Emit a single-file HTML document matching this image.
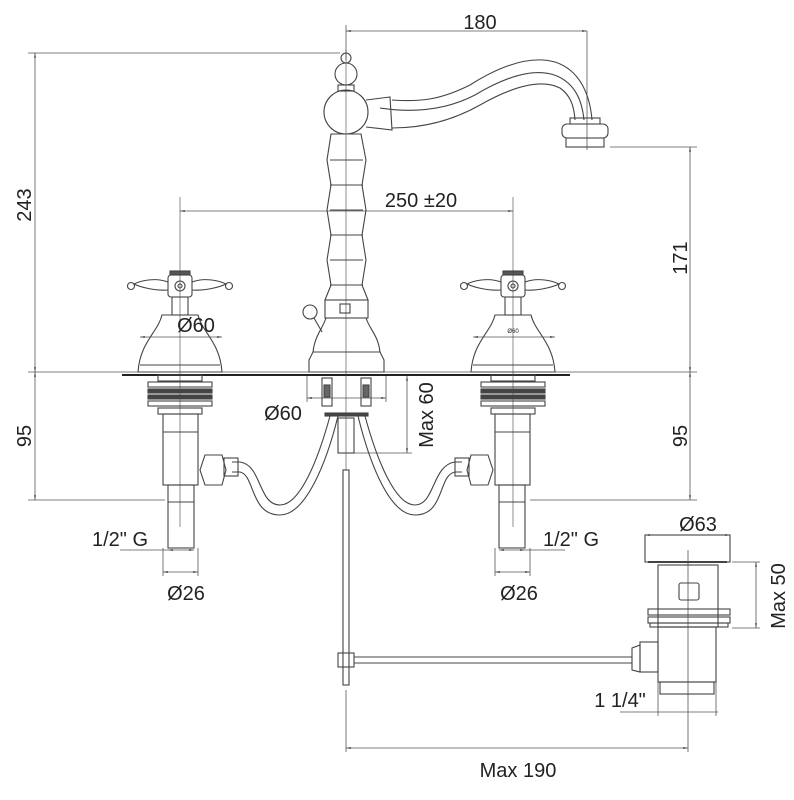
<!DOCTYPE html>
<html><head><meta charset="utf-8"><style>
html,body{margin:0;padding:0;background:#fff;}
svg{display:block;}
text{font-family:"Liberation Sans",sans-serif;fill:#222;}
</style></head><body>
<svg width="794" height="800" viewBox="0 0 794 800" xmlns="http://www.w3.org/2000/svg">
<defs>
<marker id="a" viewBox="0 0 10 10" refX="10" refY="5" markerWidth="6" markerHeight="6" orient="auto-start-reverse"><path d="M0,3 L10,5 L0,7z" fill="#444"/></marker>
<g id="valve" fill="none" stroke="#444" stroke-width="1.1">
  <rect x="-10" y="-16" width="20" height="4" fill="#555"/>
  <rect x="-12" y="-12" width="24" height="22" rx="3"/>
  <circle cx="0" cy="-1" r="5"/><circle cx="0" cy="-1" r="2"/>
  <path d="M-12,-5 C-25,-10 -40,-6 -46,-3 C-40,0 -25,4 -12,3"/>
  <path d="M12,-5 C25,-10 40,-6 46,-3 C40,0 25,4 12,3"/>
  <circle cx="-49" cy="-1" r="3.5"/><circle cx="49" cy="-1" r="3.5"/>
  <rect x="-8" y="10" width="16" height="18"/>
  <path d="M-18,28 L18,28 C22,45 40,55 42,85 L-42,85 C-40,55 -22,45 -18,28z"/>
  <line x1="-40" y1="78" x2="40" y2="78"/>
  <rect x="-22" y="88" width="44" height="6"/>
  <rect x="-32" y="95" width="64" height="5"/>
  <rect x="-32" y="102" width="64" height="4" fill="#444"/>
  <rect x="-32" y="108" width="64" height="4" fill="#444"/>
  <rect x="-32" y="114" width="64" height="5"/>
  <rect x="-22" y="121" width="44" height="6"/>
  <rect x="-17" y="127" width="35" height="71"/>
  <line x1="-17" y1="145" x2="18" y2="145"/>
  <rect x="-12" y="198" width="26" height="63"/>
  <line x1="-12" y1="215" x2="14" y2="215"/>
  <line x1="0" y1="-90" x2="0" y2="240" stroke-width="0.6"/>
</g>
</defs>

<g stroke="#555" stroke-width="0.8" fill="none">
  <line x1="346" y1="25" x2="346" y2="60"/>
  <line x1="346" y1="31" x2="587" y2="31" marker-start="url(#a)" marker-end="url(#a)"/>
  <line x1="587" y1="31" x2="587" y2="150"/>
  <line x1="28" y1="53" x2="340" y2="53"/>
  <line x1="35" y1="53" x2="35" y2="372" marker-start="url(#a)" marker-end="url(#a)"/>
  <line x1="28" y1="372" x2="697" y2="372"/>
  <line x1="35" y1="372" x2="35" y2="500" marker-start="url(#a)" marker-end="url(#a)"/>
  <line x1="28" y1="500" x2="165" y2="500"/>
  <line x1="610" y1="147" x2="697" y2="147"/>
  <line x1="690" y1="147" x2="690" y2="372" marker-start="url(#a)" marker-end="url(#a)"/>
  <line x1="690" y1="372" x2="690" y2="500" marker-start="url(#a)" marker-end="url(#a)"/>
  <line x1="530" y1="500" x2="697" y2="500"/>
  <line x1="180" y1="211" x2="513" y2="211" marker-start="url(#a)" marker-end="url(#a)"/>
  <line x1="140" y1="337" x2="222" y2="337" marker-start="url(#a)" marker-end="url(#a)"/>
  <line x1="473" y1="337" x2="555" y2="337" marker-start="url(#a)" marker-end="url(#a)"/>
  <line x1="307" y1="375" x2="307" y2="402"/><line x1="386" y1="375" x2="386" y2="402"/>
  <line x1="307" y1="398" x2="386" y2="398" marker-start="url(#a)" marker-end="url(#a)"/>
  <line x1="407" y1="376" x2="407" y2="453" marker-start="url(#a)" marker-end="url(#a)"/>
  <line x1="350" y1="453" x2="412" y2="453"/>
  <line x1="120" y1="550" x2="168" y2="550"/><line x1="168" y1="550" x2="194" y2="550" marker-start="url(#a)" marker-end="url(#a)"/>
  <line x1="499" y1="550" x2="525" y2="550" marker-start="url(#a)" marker-end="url(#a)"/><line x1="525" y1="550" x2="565" y2="550"/>
  <line x1="163" y1="548" x2="163" y2="576"/><line x1="198" y1="548" x2="198" y2="576"/>
  <line x1="163" y1="572" x2="198" y2="572" marker-start="url(#a)" marker-end="url(#a)"/>
  <line x1="495" y1="548" x2="495" y2="576"/><line x1="530" y1="548" x2="530" y2="576"/>
  <line x1="495" y1="572" x2="530" y2="572" marker-start="url(#a)" marker-end="url(#a)"/>
  <line x1="645" y1="535" x2="730" y2="535" marker-start="url(#a)" marker-end="url(#a)"/>
  <line x1="732" y1="562" x2="760" y2="562"/><line x1="732" y1="628" x2="760" y2="628"/>
  <line x1="756" y1="562" x2="756" y2="628" marker-start="url(#a)" marker-end="url(#a)"/>
  <line x1="620" y1="712" x2="718" y2="712"/><line x1="658" y1="680" x2="658" y2="716"/><line x1="716" y1="680" x2="716" y2="716"/>
  <line x1="346" y1="690" x2="346" y2="752"/><line x1="688" y1="550" x2="688" y2="752"/>
  <line x1="346" y1="748" x2="688" y2="748" marker-start="url(#a)" marker-end="url(#a)"/>
</g>

<line x1="122" y1="375" x2="570" y2="375" stroke="#222" stroke-width="2"/>

<use href="#valve" x="180" y="287"/>
<use href="#valve" transform="translate(513,287) scale(-1,1)"/>

<g fill="none" stroke="#444" stroke-width="1.1">
  <line x1="346" y1="50" x2="346" y2="470" stroke-width="0.6"/>
  <circle cx="346" cy="58" r="5"/>
  <circle cx="346" cy="74" r="11"/>
  <rect x="338" y="85" width="16" height="6"/>
  <circle cx="346" cy="112" r="22"/>
  <path d="M366,100 L390,97 L392,130 L366,127"/>
  <path d="M392,100 C420,102 440,100 470,85 C500,66 530,55 555,62 C580,70 590,95 592,120"/>
  <path d="M392,128 C420,128 450,122 480,105 C510,88 540,78 560,88 C570,95 574,105 575,120"/>
  <path d="M380,108 C420,114 450,108 475,95 C505,77 535,67 557,76 C575,84 582,100 584,120"/>
  <rect x="570" y="118" width="30" height="6"/>
  <rect x="562" y="124" width="46" height="14" rx="5"/>
  <rect x="566" y="138" width="38" height="9"/>
  <path d="M331,134 L361,134 L366,160 L362,185 L366,210 L362,235 L366,260 L362,285 L368,300 L325,300 L331,285 L327,260 L331,235 L327,210 L331,185 L327,160z"/>
  <line x1="330" y1="160" x2="363" y2="160"/><line x1="330" y1="185" x2="363" y2="185"/>
  <line x1="330" y1="210" x2="363" y2="210"/><line x1="330" y1="235" x2="363" y2="235"/>
  <line x1="330" y1="260" x2="363" y2="260"/><line x1="330" y1="285" x2="363" y2="285"/>
  <rect x="325" y="300" width="43" height="18"/>
  <rect x="340" y="304" width="10" height="9"/>
  <circle cx="310" cy="312" r="7"/><line x1="314" y1="318" x2="322" y2="332"/>
  <path d="M326,318 L366,318 C370,330 378,335 380,352 L384,360 L384,372 L309,372 L309,360 L313,352 C315,335 322,330 326,318z"/>
  <line x1="313" y1="352" x2="380" y2="352"/>
  <rect x="322" y="378" width="10" height="28"/><rect x="361" y="378" width="10" height="28"/>
  <rect x="324" y="385" width="6" height="12" fill="#666"/><rect x="363" y="385" width="6" height="12" fill="#666"/>
  <rect x="325" y="413" width="43" height="3" fill="#444"/>
  <rect x="338" y="418" width="16" height="35"/>
  <path d="M330,416 C318,460 300,505 280,505 C258,505 262,465 240,462 L232,462"/>
  <path d="M338,416 C326,465 305,515 280,515 C250,515 255,475 240,472 L232,472"/>
  <path d="M358,416 C370,465 390,515 415,515 C445,515 438,475 455,472 L462,472"/>
  <path d="M365,416 C377,460 395,505 415,505 C435,505 432,465 455,462 L462,462"/>
  <rect x="224" y="458" width="14" height="18"/><rect x="455" y="458" width="14" height="18"/>
  <path d="M205,455 L222,455 L226,470 L222,485 L205,485 L200,470z"/>
  <path d="M471,455 L488,455 L493,470 L488,485 L471,485 L467,470z"/>
  <rect x="343" y="470" width="6" height="215"/>
  <rect x="338" y="653" width="16" height="14"/>
  <line x1="354" y1="657" x2="632" y2="657"/><line x1="354" y1="663" x2="632" y2="663"/>
  <rect x="645" y="535" width="85" height="27"/>
  <line x1="648" y1="562" x2="727" y2="562" stroke-width="2"/>
  <rect x="658" y="565" width="60" height="62"/>
  <rect x="679" y="583" width="20" height="17" rx="2"/>
  <rect x="648" y="609" width="82" height="6"/><rect x="648" y="617" width="82" height="6"/>
  <rect x="650" y="623" width="78" height="4"/>
  <rect x="658" y="627" width="58" height="55"/>
  <rect x="640" y="642" width="18" height="30"/>
  <path d="M632,648 L640,645 L640,672 L632,670z"/>
  <rect x="660" y="682" width="54" height="12"/>
</g>

<text x="480" y="29" font-size="20" text-anchor="middle">180</text>
<text transform="translate(31,205) rotate(-90)" font-size="20" text-anchor="middle">243</text>
<text transform="translate(31,436) rotate(-90)" font-size="20" text-anchor="middle">95</text>
<text transform="translate(687,258) rotate(-90)" font-size="20" text-anchor="middle">171</text>
<text transform="translate(687,436) rotate(-90)" font-size="20" text-anchor="middle">95</text>
<text x="421" y="207" font-size="20" text-anchor="middle">250 ±20</text>
<text x="196" y="332" font-size="20" text-anchor="middle">Ø60</text>
<text x="513" y="333" font-size="6" text-anchor="middle">Ø60</text>
<text x="283" y="420" font-size="20" text-anchor="middle">Ø60</text>
<text transform="translate(433,415) rotate(-90)" font-size="20" text-anchor="middle">Max 60</text>
<text x="120" y="546" font-size="20" text-anchor="middle">1/2" G</text>
<text x="571" y="546" font-size="20" text-anchor="middle">1/2" G</text>
<text x="186" y="600" font-size="20" text-anchor="middle">Ø26</text>
<text x="519" y="600" font-size="20" text-anchor="middle">Ø26</text>
<text x="698" y="531" font-size="20" text-anchor="middle">Ø63</text>
<text transform="translate(785,596) rotate(-90)" font-size="20" text-anchor="middle">Max 50</text>
<text x="620" y="707" font-size="20" text-anchor="middle">1 1/4"</text>
<text x="518" y="777" font-size="20" text-anchor="middle">Max 190</text>
</svg>
</body></html>
